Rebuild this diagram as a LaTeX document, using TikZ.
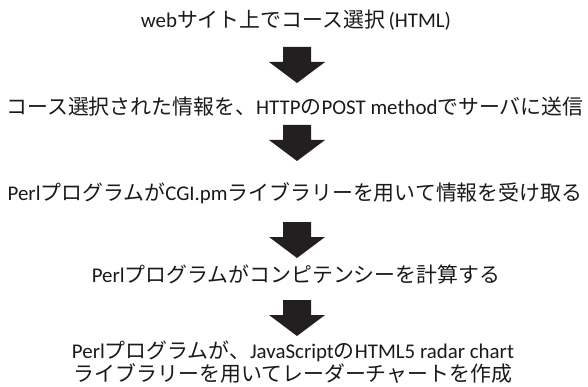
\documentclass[tikz,border=0pt]{standalone}
\usepackage{fontspec}
\setmainfont{Carlito}
\newfontfamily\jp{Noto Sans CJK JP}
\definecolor{arrowfill}{HTML}{231F20}
\definecolor{txt}{HTML}{1A1A1A}
\begin{document}
\begin{tikzpicture}[x=1pt,y=-1pt,
  steptext/.style={inner sep=0pt, text=txt, align=center, font=\fontsize{20.9}{20.5}\selectfont},
  blockarrow/.style={fill=arrowfill}]
\useasboundingbox[fill=white] (0,0) rectangle (588,387);
\node[steptext] (s1) at (296,20) {web{\jp サイト上でコース選択}\,(HTML)};
\node[steptext] (s2) at (295,107) {{\jp コース選択された情報を、}HTTP{\jp の}POST method{\jp でサーバに送信}};
\node[steptext] (s3) at (295,193) {Perl{\jp プログラムが}CGI.pm{\jp ライブラリーを用いて情報を受け取る}};
\node[steptext] (s4) at (296,275) {Perl{\jp プログラムがコンピテンシーを計算する}};
\node[steptext] (s5) at (293,362) {Perl{\jp プログラムが、}JavaScript{\jp の}HTML5 radar chart\\{\jp ライブラリーを用いてレーダーチャートを作成}};
\coordinate (a1) at (297,47);
\coordinate (a2) at (297,125);
\coordinate (a3) at (297,222);
\coordinate (a4) at (297,300);
\foreach \a in {a1,a2,a3,a4}{
  \fill[blockarrow] (\a) ++(-14,0) -- ++(28,0) -- ++(0,15) -- ++(14,0) -- ++(-28,21) -- ++(-28,-21) -- ++(14,0) -- cycle;
}
\end{tikzpicture}
\end{document}
